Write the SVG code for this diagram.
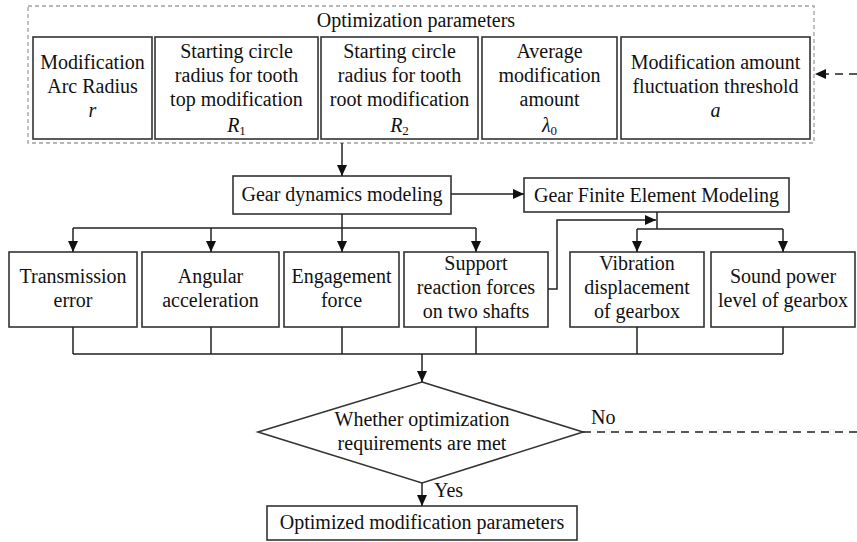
<svg xmlns="http://www.w3.org/2000/svg" width="857" height="542" viewBox="0 0 857 542">
<defs>
<marker id="ah" markerUnits="userSpaceOnUse" markerWidth="12" markerHeight="10" refX="11" refY="5" orient="auto">
<path d="M0,0 L11,5 L0,10 Z" fill="#111"/>
</marker>
<style>
text{font-family:'Liberation Serif','Times New Roman',serif;font-size:20px;fill:#111;text-anchor:middle}
.box{fill:#fff;stroke:#333;stroke-width:1.6}
.ln{fill:none;stroke:#222;stroke-width:1.5}
.dash{fill:none;stroke:#222;stroke-width:1.5;stroke-dasharray:8 6}
.outer{fill:none;stroke:#a0a0a0;stroke-width:1.3;stroke-dasharray:4 3}
.it{font-style:italic}
.sub{font-size:13px;font-style:normal}
</style>
</defs>
<rect width="857" height="542" fill="#fff"/>

<g id="params">
<rect class="outer" x="28" y="6" width="786" height="137"/>
<text x="416" y="27">Optimization parameters</text>
</g>

<g id="p1">
<rect class="box" x="33" y="37" width="119" height="102"/>
<text x="92.5" y="69">Modification</text>
<text x="92.5" y="93">Arc Radius</text>
<text x="92.5" y="117" class="it">r</text>
</g>
<g id="p2">
<rect class="box" x="155" y="37" width="163" height="102"/>
<text x="236.5" y="58">Starting circle</text>
<text x="236.5" y="82">radius for tooth</text>
<text x="236.5" y="106">top modification</text>
<text x="236.5" y="132"><tspan class="it">R</tspan><tspan class="sub" dy="3">1</tspan></text>
</g>
<g id="p3">
<rect class="box" x="321" y="37" width="157" height="102"/>
<text x="399.5" y="58">Starting circle</text>
<text x="399.5" y="82">radius for tooth</text>
<text x="399.5" y="106">root modification</text>
<text x="399.5" y="132"><tspan class="it">R</tspan><tspan class="sub" dy="3">2</tspan></text>
</g>
<g id="p4">
<rect class="box" x="482" y="37" width="135" height="102"/>
<text x="549.5" y="58">Average</text>
<text x="549.5" y="82">modification</text>
<text x="549.5" y="106">amount</text>
<text x="549.5" y="132"><tspan class="it">λ</tspan><tspan class="sub" dy="3">0</tspan></text>
</g>
<g id="p5">
<rect class="box" x="621" y="37" width="189" height="102"/>
<text x="715.5" y="69">Modification amount</text>
<text x="715.5" y="93">fluctuation threshold</text>
<text x="715.5" y="117" class="it">a</text>
</g>

<g id="gdm">
<rect class="box" x="233" y="176" width="218" height="38"/>
<text x="342" y="201">Gear dynamics modeling</text>
</g>
<g id="gfem">
<rect class="box" x="524" y="178" width="265" height="34"/>
<text x="656.5" y="202">Gear Finite Element Modeling</text>
</g>

<g id="te">
<rect class="box" x="9" y="252" width="128" height="75"/>
<text x="73" y="283">Transmission</text>
<text x="73" y="307">error</text>
</g>
<g id="aa">
<rect class="box" x="142" y="252" width="137" height="75"/>
<text x="210.5" y="283">Angular</text>
<text x="210.5" y="307">acceleration</text>
</g>
<g id="ef">
<rect class="box" x="284" y="252" width="115" height="75"/>
<text x="341.5" y="283">Engagement</text>
<text x="341.5" y="307">force</text>
</g>
<g id="srf">
<rect class="box" x="404" y="252" width="144" height="75"/>
<text x="476" y="270">Support</text>
<text x="476" y="294">reaction forces</text>
<text x="476" y="318">on two shafts</text>
</g>
<g id="vd">
<rect class="box" x="570" y="252" width="134" height="75"/>
<text x="637" y="270">Vibration</text>
<text x="637" y="294">displacement</text>
<text x="637" y="318">of gearbox</text>
</g>
<g id="spl">
<rect class="box" x="711" y="252" width="144" height="75"/>
<text x="783" y="283">Sound power</text>
<text x="783" y="307">level of gearbox</text>
</g>

<g id="decision">
<polygon class="box" points="422,382 583,432 422,483 258,432"/>
<text x="422" y="426">Whether optimization</text>
<text x="422" y="450">requirements are met</text>
</g>

<g id="result">
<rect class="box" x="267" y="506" width="310" height="34"/>
<text x="422" y="529">Optimized modification parameters</text>
</g>

<g id="connectors">
<line class="ln" x1="342" y1="143" x2="342" y2="176" marker-end="url(#ah)"/>
<line class="ln" x1="451" y1="194" x2="524" y2="194" marker-end="url(#ah)"/>
<line class="ln" x1="342" y1="214" x2="342" y2="228"/>
<line class="ln" x1="73" y1="228" x2="476" y2="228"/>
<line class="ln" x1="73" y1="228" x2="73" y2="252" marker-end="url(#ah)"/>
<line class="ln" x1="211" y1="228" x2="211" y2="252" marker-end="url(#ah)"/>
<line class="ln" x1="342" y1="228" x2="342" y2="252" marker-end="url(#ah)"/>
<line class="ln" x1="476" y1="228" x2="476" y2="252" marker-end="url(#ah)"/>
<line class="ln" x1="657" y1="212" x2="657" y2="229"/>
<line class="ln" x1="637" y1="229" x2="783" y2="229"/>
<line class="ln" x1="637" y1="229" x2="637" y2="252" marker-end="url(#ah)"/>
<line class="ln" x1="783" y1="229" x2="783" y2="252" marker-end="url(#ah)"/>
<path class="ln" d="M548,289 H557 V220 H656" marker-end="url(#ah)"/>
<path class="ln" d="M73,327 V354 M211,327 V354 M342,327 V354 M476,327 V354 M637,327 V354 M783,327 V354 M73,354 H783"/>
<line class="ln" x1="422" y1="354" x2="422" y2="382" marker-end="url(#ah)"/>
<line class="ln" x1="422" y1="483" x2="422" y2="506" marker-end="url(#ah)"/>
<text x="434" y="497" style="text-anchor:start">Yes</text>
<line class="dash" x1="583" y1="432" x2="857" y2="432"/>
<text x="591" y="424" style="text-anchor:start">No</text>
<line class="dash" x1="857" y1="74" x2="815" y2="74" marker-end="url(#ah)"/>
</g>
</svg>
